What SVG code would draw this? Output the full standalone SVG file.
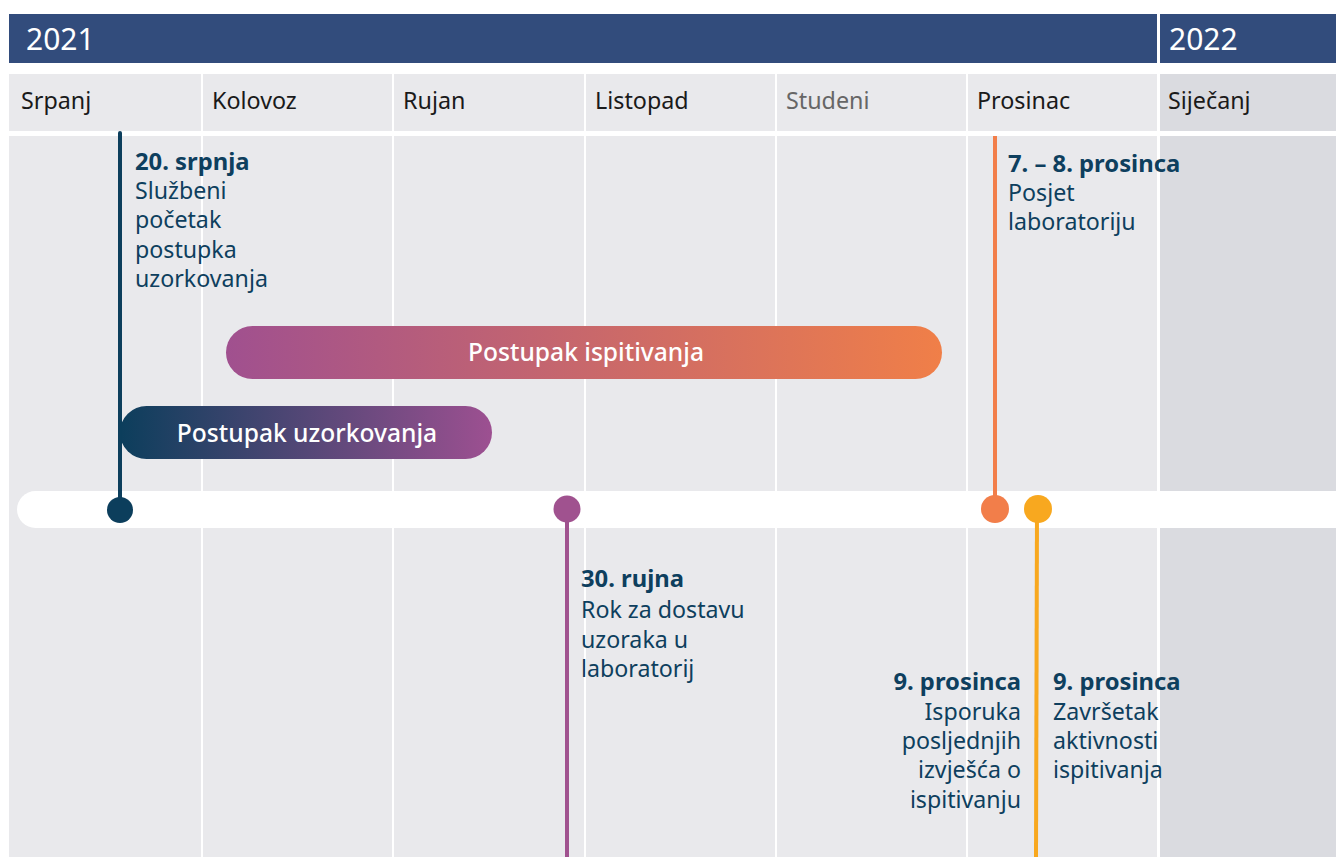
<svg xmlns="http://www.w3.org/2000/svg" width="1336" height="857" viewBox="0 0 1336 857">
<defs>
<style>
.col{fill:#e9e9ec}
.colj{fill:#dadbe0}
.month{font-family:"Noto Sans","Open Sans",sans-serif;font-size:23.3px;fill:#1a1a1a}
.year{font-family:"Noto Sans","Open Sans",sans-serif;font-size:30px;fill:#ffffff}
.t{font-family:"Noto Sans","Open Sans",sans-serif;font-size:23.2px;fill:#0e3f5e}
.b{font-weight:700;font-size:23.8px}
.bar{font-family:"Noto Sans","Open Sans",sans-serif;font-size:24.6px;font-weight:500;fill:#ffffff}
</style>
<linearGradient id="gIsp" x1="0" x2="1" y1="0" y2="0">
<stop offset="0" stop-color="#a0508f"/>
<stop offset="1" stop-color="#f07f48"/>
</linearGradient>
<linearGradient id="gUzo" x1="0" x2="1" y1="0" y2="0">
<stop offset="0" stop-color="#0c3e5c"/>
<stop offset="1" stop-color="#9d5091"/>
</linearGradient>
</defs>
<rect width="1336" height="857" fill="#ffffff"/>
<g id="header">
<rect x="9" y="14" width="1327" height="49" fill="#324c7c"/>
<rect x="1157" y="14" width="3" height="49" fill="#ffffff"/>
<text class="year" x="26" y="50">2021</text>
<text class="year" x="1169" y="50">2022</text>
</g>
<g id="columns">
<rect class="col" x="9" y="74" width="192" height="57"/>
<rect class="col" x="203" y="74" width="189" height="57"/>
<rect class="col" x="394" y="74" width="190" height="57"/>
<rect class="col" x="586" y="74" width="189" height="57"/>
<rect class="col" x="777" y="74" width="189" height="57"/>
<rect class="col" x="968" y="74" width="189" height="57"/>
<rect class="colj" x="1160" y="74" width="176" height="57"/>
<rect class="col" x="9" y="136" width="192" height="721"/>
<rect class="col" x="203" y="136" width="189" height="721"/>
<rect class="col" x="394" y="136" width="190" height="721"/>
<rect class="col" x="586" y="136" width="189" height="721"/>
<rect class="col" x="777" y="136" width="189" height="721"/>
<rect class="col" x="968" y="136" width="189" height="721"/>
<rect class="colj" x="1160" y="136" width="176" height="721"/>
<text class="month" x="21" y="109">Srpanj</text>
<text class="month" x="212" y="109">Kolovoz</text>
<text class="month" x="403" y="109">Rujan</text>
<text class="month" x="595" y="109">Listopad</text>
<text class="month" x="786" y="109" style="fill:#666666">Studeni</text>
<text class="month" x="977" y="109">Prosinac</text>
<text class="month" x="1168" y="109">Siječanj</text>
</g>
<g id="timeline">
<rect x="17" y="491" width="1340" height="37" rx="18.5" fill="#ffffff"/>
</g>
<g id="bar-ispitivanja">
<rect x="226" y="326" width="716" height="53" rx="26.5" fill="url(#gIsp)"/>
<text class="bar" x="586" y="361" text-anchor="middle">Postupak ispitivanja</text>
</g>
<g id="bar-uzorkovanja">
<rect x="120" y="406" width="372" height="53" rx="26.5" fill="url(#gUzo)"/>
<text class="bar" x="307" y="442" text-anchor="middle">Postupak uzorkovanja</text>
</g>
<g id="connectors">
<line x1="120" y1="133" x2="120" y2="510" stroke="#0c3e5c" stroke-width="4" stroke-linecap="round"/>
<line x1="567" y1="509" x2="567" y2="857" stroke="#a0528f" stroke-width="4"/>
<line x1="995" y1="136" x2="995" y2="509" stroke="#f27e4a" stroke-width="4"/>
<line x1="1037" y1="509" x2="1036" y2="857" stroke="#f8a81f" stroke-width="4"/>
</g>
<g id="m1">
<circle cx="120" cy="510" r="13" fill="#0c3e5c"/>
<text class="t b" x="135" y="170">20. srpnja</text>
<text class="t" x="135" y="199">Službeni</text>
<text class="t" x="135" y="228">početak</text>
<text class="t" x="135" y="258">postupka</text>
<text class="t" x="135" y="287">uzorkovanja</text>
</g>
<g id="m2">
<circle cx="567" cy="509" r="13.5" fill="#a0528f"/>
<text class="t b" x="581" y="587">30. rujna</text>
<text class="t" x="581" y="618">Rok za dostavu</text>
<text class="t" x="581" y="648">uzoraka u</text>
<text class="t" x="581" y="677">laboratorij</text>
</g>
<g id="m3">
<circle cx="995" cy="509" r="14" fill="#f27e4a"/>
<text class="t b" x="1008" y="172">7. – 8. prosinca</text>
<text class="t" x="1008" y="201">Posjet</text>
<text class="t" x="1008" y="230">laboratoriju</text>
</g>
<g id="m4">
<circle cx="1038" cy="509" r="14" fill="#f8a81f"/>
<text class="t b" x="1053" y="690">9. prosinca</text>
<text class="t" x="1053" y="720">Završetak</text>
<text class="t" x="1053" y="749">aktivnosti</text>
<text class="t" x="1053" y="778">ispitivanja</text>
</g>
<g id="m5">
<text class="t b" x="1021" y="690" text-anchor="end">9. prosinca</text>
<text class="t" x="1021" y="720" text-anchor="end">Isporuka</text>
<text class="t" x="1021" y="749" text-anchor="end">posljednjih</text>
<text class="t" x="1021" y="778" text-anchor="end">izvješća o</text>
<text class="t" x="1021" y="808" text-anchor="end">ispitivanju</text>
</g>
</svg>
